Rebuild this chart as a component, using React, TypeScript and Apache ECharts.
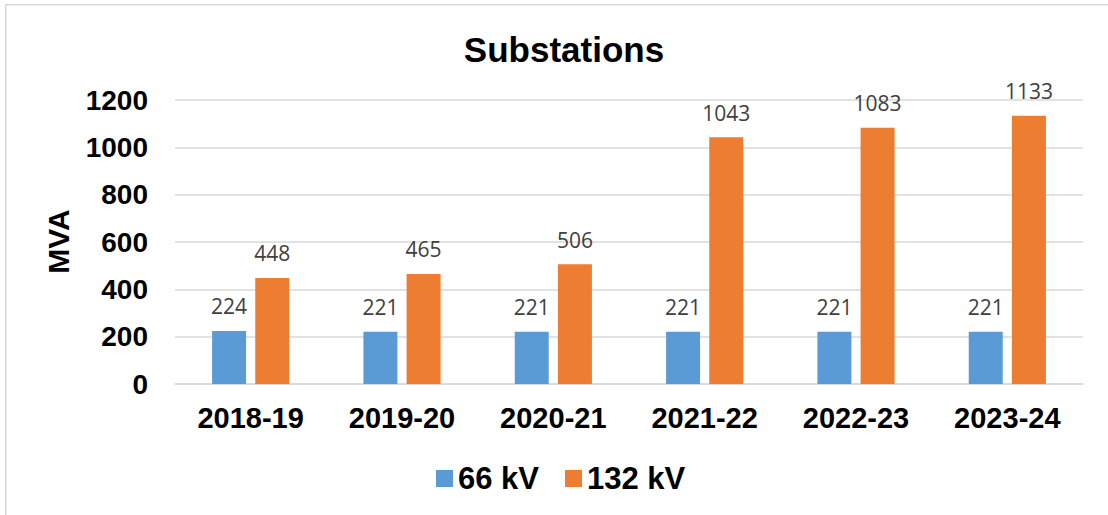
import React, { useEffect, useRef } from "react";
import * as echarts from "echarts";

const categories = ["2018-19", "2019-20", "2020-21", "2021-22", "2022-23", "2023-24"];
const kv66 = [224, 221, 221, 221, 221, 221];
const kv132 = [448, 465, 506, 1043, 1083, 1133];
const seriesNames = ["66 kV", "132 kV"];

export default function App() {
  const ref = useRef<HTMLDivElement>(null);
  useEffect(() => {
    if (!ref.current) return;
    const chart = echarts.init(ref.current, undefined, { renderer: "svg" });
    const font = "'Liberation Sans', Arial, sans-serif";
    const labelStyle = {
      show: true,
      position: "top" as const,
      distance: 14,
      color: "#404040",
      fontSize: 21,
      fontFamily: "'Open Sans', sans-serif",
    };
    chart.setOption({
      animation: false,
      backgroundColor: "#ffffff",
      title: {
        text: "Substations",
        left: 559,
        top: 27,
        textAlign: "center",
        textStyle: { fontSize: 35, fontWeight: "bold", color: "#000", fontFamily: font },
      },
      legend: {
        data: seriesNames,
        left: 436,
        top: 463,
        padding: 0,
        itemWidth: 17,
        itemHeight: 17,
        itemGap: 26,
        icon: "rect",
        textStyle: { fontSize: 31, fontWeight: "bold", color: "#000", fontFamily: font },
      },
      grid: { left: 175, right: 25, top: 100, bottom: 131, containLabel: false },
      xAxis: {
        type: "category",
        data: categories,
        axisLine: { lineStyle: { color: "#d9d9d9", width: 1.5 } },
        axisTick: { show: false },
        axisLabel: { margin: 19, fontSize: 29, fontWeight: "bold", color: "#000", fontFamily: font },
      },
      yAxis: {
        type: "value",
        min: 0,
        max: 1200,
        interval: 200,
        axisLine: { show: false },
        axisTick: { show: false },
        splitLine: { lineStyle: { color: "#d9d9d9", width: 1.5 } },
        axisLabel: {
          margin: 27,
          fontSize: 28,
          fontWeight: "bold",
          color: "#000",
          fontFamily: font,
          formatter: (v: number) => String(v),
        },
      },
      graphic: [
        {
          type: "rect",
          shape: { x: 5.75, y: 4.75, width: 1200, height: 600 },
          style: { fill: "none", stroke: "#d9d9d9", lineWidth: 1.5 },
          silent: true,
        },
        {
          type: "text",
          x: 58.5,
          y: 241.5,
          rotation: Math.PI / 2,
          style: {
            text: "MVA",
            fontSize: 30,
            fontWeight: "bold",
            fill: "#000",
            fontFamily: font,
            textAlign: "center",
            textVerticalAlign: "middle",
          },
        },
      ],
      series: [
        {
          name: seriesNames[0],
          type: "bar",
          data: kv66,
          barWidth: 34,
          barGap: "27%",
          itemStyle: { color: "#5B9BD5" },
          label: labelStyle,
        },
        {
          name: seriesNames[1],
          type: "bar",
          data: kv132,
          barWidth: 34,
          itemStyle: { color: "#ED7D31" },
          label: labelStyle,
        },
      ],
    });
    return () => chart.dispose();
  }, []);
  return (
    <div
      ref={ref}
      style={{ position: "absolute", left: 0, top: 0, width: 1108, height: 515 }}
    />
  );
}
